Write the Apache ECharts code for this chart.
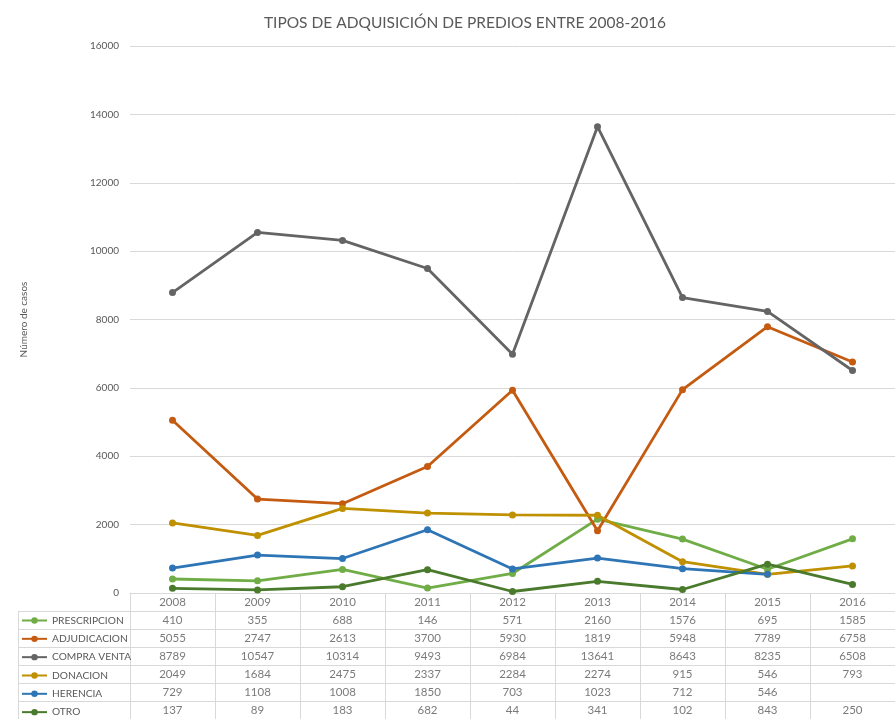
<!DOCTYPE html>
<html>
<head>
<meta charset="utf-8">
<script src="https://cdn.jsdelivr.net/npm/echarts@6/dist/echarts.min.js"></script>
<style>
  html, body { margin: 0; padding: 0; background: #ffffff; }
  #chart { width: 895px; height: 719px; }
</style>
</head>
<body>
<div id="chart"></div>
<script>
// Years on the category axis and in the table header
const years = ['2008', '2009', '2010', '2011', '2012', '2013', '2014', '2015', '2016'];

// Acquisition types (series names, table row labels)
const seriesNames = ['PRESCRIPCION', 'ADJUDICACION', 'COMPRA VENTA', 'DONACION', 'HERENCIA', 'OTRO'];

// Number of cases per year
const prescripcion = [410, 355, 688, 146, 571, 2160, 1576, 695, 1585];
const adjudicacion = [5055, 2747, 2613, 3700, 5930, 1819, 5948, 7789, 6758];
const compraVenta = [8789, 10547, 10314, 9493, 6984, 13641, 8643, 8235, 6508];
const donacion = [2049, 1684, 2475, 2337, 2284, 2274, 915, 546, 793];
const herencia = [729, 1108, 1008, 1850, 703, 1023, 712, 546, null];
const otro = [137, 89, 183, 682, 44, 341, 102, 843, 250];

// Y axis ticks
const yMin = 0;
const yMax = 16000;
const yStep = 2000;

const seriesValues = [prescripcion, adjudicacion, compraVenta, donacion, herencia, otro];
const colors = ['#70AD47', '#C55A11', '#646464', '#BF9000', '#2E75B6', '#4A7A2C'];

const textColor = '#595959';
const gridColor = '#D9D9D9';
const fontFamily = 'Lato, "Open Sans", sans-serif';

// Geometry of plot and table
const plotLeft = 130;
const plotWidth = 777;
const plotTop = 46;
const plotBottom = 593;
const rowH = 18.33;
const tableRows = ['HEADER'].concat(seriesNames);

// Line series
const lineSeries = seriesNames.map((name, i) => ({
  name: name,
  type: 'line',
  xAxisIndex: 0,
  yAxisIndex: 0,
  data: seriesValues[i],
  symbol: 'circle',
  symbolSize: 7,
  connectNulls: false,
  lineStyle: { width: 2.8, color: colors[i] },
  itemStyle: { color: colors[i] },
  emphasis: { disabled: true },
  z: 3
}));

// Table cells: header years (row 0) and one row per series
const cellData = [];
years.forEach((y, c) => cellData.push({ value: [c, 0], label: { formatter: y } }));
seriesValues.forEach((vals, r) => {
  vals.forEach((v, c) => {
    if (v !== null && v !== undefined) {
      cellData.push({ value: [c, r + 1], label: { formatter: String(v) } });
    }
  });
});

const tableSeries = {
  type: 'scatter',
  xAxisIndex: 1,
  yAxisIndex: 1,
  symbolSize: 0,
  silent: true,
  data: cellData,
  label: {
    show: true,
    position: 'inside',
    color: textColor,
    fontFamily: fontFamily,
    fontSize: 11.5
  }
};

const chart = echarts.init(document.getElementById('chart'), null, { renderer: 'canvas' });

chart.setOption({
  backgroundColor: '#ffffff',
  animation: false,
  title: {
    text: 'TIPOS DE ADQUISICIÓN DE PREDIOS ENTRE 2008-2016',
    left: 460,
    textAlign: 'center',
    top: 10,
    textStyle: { color: textColor, fontFamily: fontFamily, fontSize: 15.5, fontWeight: 'normal' }
  },
  legend: {
    orient: 'vertical',
    left: 21,
    top: plotBottom + rowH,
    height: 150,
    padding: 0,
    itemGap: 0,
    itemWidth: 25,
    itemHeight: 8,
    data: seriesNames,
    selectedMode: false,
    textStyle: { color: textColor, fontFamily: fontFamily, fontSize: 10.2, lineHeight: rowH }
  },
  grid: [
    // line plot
    { left: plotLeft, width: plotWidth, top: plotTop, height: plotBottom - plotTop },
    // table value cells (header + 6 rows)
    { left: plotLeft, width: plotWidth, top: plotBottom, height: rowH * tableRows.length },
    // legend column of the table
    { left: 18, width: plotLeft - 18, top: plotBottom + rowH, height: rowH * seriesNames.length }
  ],
  xAxis: [
    {
      type: 'category',
      gridIndex: 0,
      data: years,
      boundaryGap: true,
      axisLine: { show: true, lineStyle: { color: gridColor, width: 1 } },
      axisTick: { show: false },
      axisLabel: { show: false },
      splitLine: { show: false }
    },
    {
      type: 'category',
      gridIndex: 1,
      data: years,
      boundaryGap: true,
      axisLine: { show: false },
      axisTick: { show: false },
      axisLabel: { show: false },
      splitLine: { show: true, lineStyle: { color: gridColor, width: 1 } }
    },
    {
      type: 'category',
      gridIndex: 2,
      data: [''],
      show: false
    }
  ],
  yAxis: [
    {
      type: 'value',
      gridIndex: 0,
      min: yMin,
      max: yMax,
      interval: yStep,
      name: 'Número de casos',
      nameLocation: 'middle',
      nameRotate: 90,
      nameGap: 101,
      nameTextStyle: { color: textColor, fontFamily: fontFamily, fontSize: 10 },
      axisLine: { show: false },
      axisTick: { show: false },
      axisLabel: { color: textColor, fontFamily: fontFamily, fontSize: 10, margin: 11, formatter: (v) => String(v) },
      splitLine: { show: true, lineStyle: { color: gridColor, width: 1 } }
    },
    {
      type: 'category',
      gridIndex: 1,
      data: tableRows,
      inverse: true,
      boundaryGap: true,
      axisLine: { show: true, lineStyle: { color: gridColor, width: 1 } },
      axisTick: { show: false },
      axisLabel: { show: false },
      splitLine: { show: true, lineStyle: { color: gridColor, width: 1 } }
    },
    {
      type: 'category',
      gridIndex: 2,
      data: seriesNames,
      inverse: true,
      boundaryGap: true,
      axisLine: { show: true, lineStyle: { color: gridColor, width: 1 } },
      axisTick: { show: false },
      axisLabel: { show: false },
      splitLine: { show: true, lineStyle: { color: gridColor, width: 1 } }
    }
  ],
  series: lineSeries.concat([tableSeries])
});
</script>
</body>
</html>
